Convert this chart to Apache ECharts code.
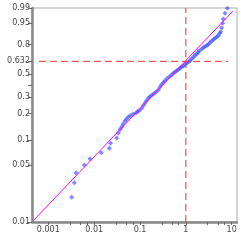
<!DOCTYPE html>
<html><head><meta charset="utf-8">
<script src="https://cdn.jsdelivr.net/npm/echarts@6/dist/echarts.min.js"></script>
<style>html,body{margin:0;padding:0;background:#fff}#c{width:241px;height:241px}</style>
</head><body><div id="c"></div>
<script>
// observed failure times and plotting positions
const failureTime = [0.00324,0.00369,0.00402,0.00610,0.00812,0.01432,0.0214,0.0227,0.0310,0.0337,
 0.0366,0.0399,0.0426,0.0471,0.0508,0.0556,0.0621,0.0715,0.0818,0.0882,
 0.0966,0.1089,0.1180,0.1285,0.1400,0.1531,0.1652,0.1828,0.2018,0.2234,
 0.2506,0.2729,0.2972,0.3255,0.3507,0.3882,0.4355,0.4864,0.5321,0.5794,
 0.6310,0.6918,0.7447,0.8035,0.8790,0.9572,1.0435,1.143,1.2315,1.3274,
 1.454,1.584,1.7245,1.841,1.965,2.217,2.427,2.617,2.893,3.088,
 3.363,3.664,4.009,4.323,4.708,5.102,5.420,5.754,6.053,6.363,
 6.558,7.145,8.017];
const cumProb = [0.0202,0.0305,0.0403,0.0501,0.0597,0.0704,0.0795,0.0911,0.1053,0.1205,
 0.1323,0.1414,0.1530,0.1656,0.1744,0.1837,0.1909,0.1984,0.2034,0.2115,
 0.2168,0.2292,0.2459,0.2615,0.2779,0.2950,0.3058,0.3169,0.3281,0.3398,
 0.3557,0.3807,0.4023,0.4202,0.4366,0.4573,0.4746,0.4911,0.5080,0.5210,
 0.5343,0.5465,0.5589,0.5723,0.5828,0.5985,0.6111,0.6247,0.6384,0.6564,
 0.6742,0.6929,0.7084,0.7238,0.7420,0.7588,0.7734,0.7830,0.7923,0.8035,
 0.8196,0.8328,0.8454,0.8551,0.8654,0.8752,0.8910,0.9031,0.9270,0.9486,
 0.9652,0.9808,0.9895];
// fitted Weibull line endpoints
const fitTime = [0.000464, 10.67];
const fitProb = [0.0103, 0.9853];
// reference lines (characteristic life)
const vLineTime = [1, 1];
const vLineProb = [0.01, 0.99];
const hLineTime = [0.000627, 8.3];
const hLineProb = [0.632, 0.632];
// axis ticks
const xTickValues = [0.001, 0.01, 0.1, 1, 10];
const xTickLabels = ['0.001', '0.01', '0.1', '1', '10'];
const xMinorTicks = [0.003,0.005,0.007,0.03,0.05,0.07,0.3,0.5,0.7,3,5,7];
const yTickLabels = ['0.01','0.05','0.1','0.2','0.3','0.5','0.632','0.8','0.95','0.99'];
const yMinorTicks = [0.4];
const xRange = [0.000441, 13.05];
const yRange = [0.01, 0.99];

const weib = p => Math.log(-Math.log(1 - p));
const yTickVals = yTickLabels.map(s => weib(parseFloat(s)));
const pairs = (xs, ps) => xs.map((x, i) => [x, weib(ps[i])]);

const chart = echarts.init(document.getElementById('c'), null, {renderer: 'canvas'});
const font = {fontFamily: 'DejaVu Sans', fontSize: 8, color: '#444'};
chart.setOption({
  animation: false,
  backgroundColor: '#fff',
  grid: {left: 32, right: 4, top: 8, bottom: 19, show: true, borderColor: '#aaa', borderWidth: 1},
  xAxis: {
    type: 'log', min: xRange[0], max: xRange[1],
    axisLine: {show: true, onZero: false, lineStyle: {color: '#888', width: 2.5}},
    axisTick: {show: true, length: 3, lineStyle: {color: '#666'},
      customValues: xTickValues.concat(xMinorTicks)},
    axisLabel: Object.assign({margin: 4, customValues: xTickValues,
      formatter: v => { const i = xTickValues.findIndex(t => Math.abs(Math.log10(t) - Math.log10(v)) < 1e-6); return i >= 0 ? xTickLabels[i] : ''; }}, font),
    splitLine: {show: false}, minorTick: {show: false}
  },
  yAxis: {
    type: 'value', min: weib(yRange[0]), max: weib(yRange[1]),
    axisLine: {show: true, onZero: false, lineStyle: {color: '#888', width: 2.5}},
    axisTick: {show: true, length: 4, lineStyle: {color: '#666'},
      customValues: yTickVals.concat(yMinorTicks.map(weib))},
    axisLabel: Object.assign({margin: 2, customValues: yTickVals,
      formatter: v => { const i = yTickVals.findIndex(t => Math.abs(t - v) < 1e-6); return i >= 0 ? yTickLabels[i] : ''; }}, font),
    splitLine: {show: false}
  },
  series: [
    {type: 'scatter', data: pairs(failureTime, cumProb), symbol: 'diamond', symbolSize: 5,
     itemStyle: {color: 'rgba(50,70,255,0.8)'}, z: 2},
    {type: 'line', data: pairs(fitTime, fitProb), symbol: 'none',
     lineStyle: {color: '#ff00ff', width: 1}, z: 3},
    {type: 'line', data: pairs(vLineTime, vLineProb), symbol: 'none',
     lineStyle: {color: '#e83030', width: 1, type: [7, 4]}, z: 4},
    {type: 'line', data: pairs(hLineTime, hLineProb), symbol: 'none',
     lineStyle: {color: '#e83030', width: 1, type: [7, 4]}, z: 4}
  ]
});
</script></body></html>
